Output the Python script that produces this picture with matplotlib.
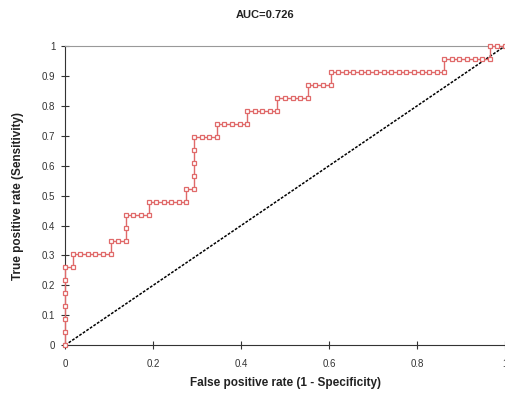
import matplotlib
matplotlib.use("Agg")
import matplotlib.pyplot as plt
import numpy as np

plt.rcParams['font.family'] = ['Liberation Sans', 'DejaVu Sans']

# ROC points: counts of false positives (out of 58) and
# true positives (out of 23) at each threshold
n_neg = 58
n_pos = 23
fp = [0, 0, 0, 0, 0, 0, 0, 1, 1, 2, 3, 4, 5, 6, 6, 7, 8, 8, 8, 9, 10, 11, 11,
      12, 13, 14, 15, 16, 16, 17, 17, 17, 17, 17, 18, 19, 20, 20, 21, 22, 23, 24,
      24, 25, 26, 27, 28, 28, 29, 30, 31, 32, 32, 33, 34, 35, 35, 36, 37, 38, 39,
      40, 41, 42, 43, 44, 45, 46, 47, 48, 49, 50, 50, 51, 52, 53, 54, 55, 56, 56,
      57, 58]
tp = [0, 1, 2, 3, 4, 5, 6, 6, 7, 7, 7, 7, 7, 7, 8, 8, 8, 9, 10, 10, 10, 10, 11,
      11, 11, 11, 11, 11, 12, 12, 13, 14, 15, 16, 16, 16, 16, 17, 17, 17, 17, 17,
      18, 18, 18, 18, 18, 19, 19, 19, 19, 19, 20, 20, 20, 20, 21, 21, 21, 21, 21,
      21, 21, 21, 21, 21, 21, 21, 21, 21, 21, 21, 22, 22, 22, 22, 22, 22, 22, 23,
      23, 23]
auc_text = "AUC=0.726"

x_ticks = [0, 0.2, 0.4, 0.6, 0.8, 1]
x_labels = ["0", "0.2", "0.4", "0.6", "0.8", "1"]
y_ticks = [0, 0.1, 0.2, 0.3, 0.4, 0.5, 0.6, 0.7, 0.8, 0.9, 1]
y_labels = ["0", "0.1", "0.2", "0.3", "0.4", "0.5", "0.6", "0.7", "0.8", "0.9", "1"]

fpr = np.array(fp) / n_neg
tpr = np.array(tp) / n_pos

fig = plt.figure(figsize=(5.05, 3.94), dpi=100)
ax = fig.add_axes([0.129, 0.124, 0.871, 0.759])

ax.plot([0, 1], [0, 1], color='black', linestyle=(0, (1.8, 1.0)), linewidth=1.1, zorder=2)
ax.plot(fpr, tpr, color='#e06a6a', linewidth=1.0, marker='s', markersize=3.2,
        markerfacecolor='white', markeredgecolor='#e06a6a', markeredgewidth=0.9,
        clip_on=False, zorder=3)

ax.set_xlim(0, 1)
ax.set_ylim(0, 1)
ax.set_xticks(x_ticks)
ax.set_xticklabels(x_labels)
ax.set_yticks(y_ticks)
ax.set_yticklabels(y_labels)
ax.tick_params(direction='inout', length=6, width=0.8, labelsize=7, colors='#333333')
ax.tick_params(axis='x', pad=7)
ax.tick_params(axis='y', pad=4)

ax.spines['right'].set_visible(False)
ax.spines['top'].set_color('#999999')
ax.spines['left'].set_color('#333333')
ax.spines['bottom'].set_color('#333333')

ax.set_xlabel("False positive rate (1 - Specificity)", fontsize=8.5, fontweight='bold', color='#222222', labelpad=6)
ax.set_ylabel("True positive rate (Sensitivity)", fontsize=8.5, fontweight='bold', color='#222222', labelpad=13)
fig.text(0.525, 0.962, auc_text, ha='center', va='center', fontsize=8, fontweight='bold', color='#222222')

fig.savefig("out.png", dpi=100)
